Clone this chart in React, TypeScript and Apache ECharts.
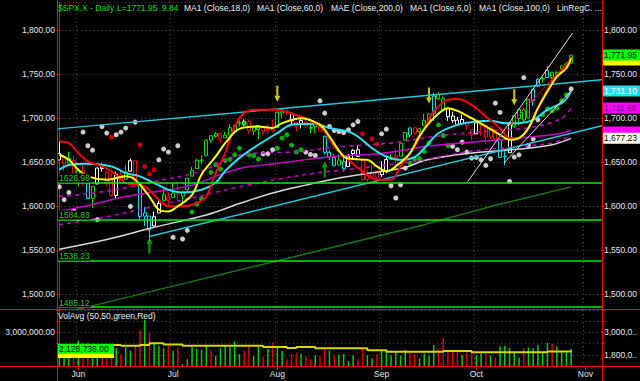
import React, { useEffect, useRef } from 'react';
import * as echarts from 'echarts';

// ---------- calendar ----------
const FIRST_SESSION = '2013-05-28';
const HOLIDAYS = ['2013-07-04', '2013-09-02'];
const SLOT_COUNT = 115;
const MONTHS = ['Jan', 'Feb', 'Mar', 'Apr', 'May', 'Jun', 'Jul', 'Aug', 'Sep', 'Oct', 'Nov', 'Dec'];

function buildSessions(): string[] {
  const out: string[] = [];
  const d = new Date(FIRST_SESSION + 'T00:00:00Z');
  while (out.length < SLOT_COUNT) {
    const wd = d.getUTCDay();
    const iso = d.toISOString().slice(0, 10);
    if (wd !== 0 && wd !== 6 && HOLIDAYS.indexOf(iso) < 0) out.push(iso);
    d.setUTCDate(d.getUTCDate() + 1);
  }
  return out;
}

// ---------- price data ($SPX.X daily) ----------
const opens = [
  1652.6, 1656.6, 1649.1, 1652.1, 1631.7, 1640.7, 1629.1, 1609.0, 1625.3, 1644.7,
  1638.6, 1629.9, 1612.2, 1635.5, 1630.6, 1639.8, 1651.8, 1624.6, 1588.6, 1588.8,
  1577.5, 1592.3, 1606.4, 1611.1, 1609.8, 1614.3, 1611.5, 1618.7, 1634.2, 1642.9,
  1651.6, 1657.4, 1675.3, 1679.6, 1682.7, 1677.9, 1681.1, 1686.2, 1694.4, 1696.6,
  1696.1, 1685.2, 1687.3, 1690.3, 1687.9, 1687.8, 1689.4, 1706.1, 1708.0, 1705.8,
  1695.3, 1693.4, 1696.1, 1688.4, 1690.7, 1693.4, 1679.6, 1661.2, 1655.3, 1646.8,
  1650.7, 1645.0, 1659.9, 1664.3, 1652.5, 1630.3, 1633.5, 1640.0, 1635.9, 1640.7,
  1653.3, 1657.4, 1656.9, 1675.1, 1681.0, 1689.2, 1685.0, 1691.7, 1697.7, 1705.7,
  1727.3, 1722.4, 1711.4, 1702.6, 1698.0, 1694.1, 1695.5, 1687.3, 1682.4, 1691.9,
  1692.4, 1679.0, 1687.2, 1676.2, 1657.0, 1660.9, 1691.1, 1699.9, 1709.2, 1700.5,
  1720.2, 1736.7, 1745.2, 1746.5, 1752.3, 1747.5, 1756.0, 1759.4, 1762.9,
];
const highs = [
  1674.2, 1656.6, 1661.9, 1658.0, 1640.4, 1646.5, 1629.3, 1622.6, 1644.4, 1648.7,
  1640.8, 1637.7, 1639.3, 1640.8, 1646.5, 1654.2, 1652.5, 1624.6, 1599.2, 1588.8,
  1593.8, 1606.8, 1620.1, 1615.9, 1626.6, 1624.3, 1618.0, 1632.1, 1644.7, 1654.2,
  1657.9, 1676.6, 1680.2, 1684.5, 1683.7, 1684.8, 1693.1, 1692.1, 1697.6, 1698.8,
  1698.4, 1690.9, 1691.9, 1690.9, 1693.2, 1698.4, 1707.9, 1709.7, 1709.2, 1705.8,
  1695.3, 1700.2, 1699.4, 1692.6, 1696.8, 1695.5, 1679.6, 1663.6, 1659.2, 1658.9,
  1656.9, 1659.6, 1664.9, 1669.5, 1652.5, 1641.2, 1646.4, 1640.7, 1651.4, 1655.7,
  1659.2, 1664.8, 1672.4, 1684.1, 1689.1, 1689.8, 1688.7, 1704.9, 1705.5, 1729.4,
  1729.9, 1725.2, 1711.4, 1707.6, 1701.7, 1703.9, 1695.5, 1687.3, 1696.6, 1693.9,
  1692.4, 1691.0, 1687.2, 1676.8, 1662.5, 1692.6, 1703.4, 1711.0, 1711.6, 1721.8,
  1733.4, 1745.3, 1747.8, 1759.3, 1752.3, 1753.9, 1759.8, 1764.0, 1772.1,
];
const lows = [
  1652.6, 1640.1, 1648.6, 1630.7, 1622.7, 1623.6, 1608.1, 1598.2, 1625.3, 1639.3,
  1622.9, 1610.9, 1608.1, 1625.5, 1630.3, 1639.8, 1628.9, 1584.3, 1577.7, 1560.3,
  1577.1, 1592.3, 1606.4, 1601.1, 1609.8, 1606.8, 1604.6, 1614.7, 1634.2, 1642.9,
  1647.7, 1657.4, 1672.3, 1677.9, 1671.8, 1677.9, 1681.1, 1684.1, 1690.7, 1691.0,
  1682.6, 1680.7, 1676.0, 1681.9, 1682.4, 1684.9, 1689.4, 1700.7, 1703.6, 1693.3,
  1684.9, 1688.4, 1689.0, 1683.2, 1682.6, 1684.8, 1658.6, 1652.6, 1646.1, 1646.1,
  1639.4, 1645.0, 1653.8, 1656.0, 1629.1, 1627.5, 1630.9, 1625.4, 1633.4, 1637.4,
  1653.1, 1640.6, 1656.9, 1675.1, 1678.7, 1681.0, 1682.2, 1691.7, 1697.7, 1697.0,
  1720.2, 1708.9, 1697.1, 1694.9, 1691.9, 1693.1, 1687.1, 1674.8, 1682.1, 1680.3,
  1670.4, 1677.1, 1674.7, 1655.0, 1646.5, 1660.9, 1688.5, 1692.1, 1695.5, 1700.5,
  1714.1, 1735.7, 1740.7, 1746.5, 1740.5, 1745.5, 1752.5, 1757.7, 1762.9,
];
const closes = [
  1660.1, 1648.4, 1654.4, 1630.7, 1640.4, 1631.4, 1608.9, 1622.6, 1643.4, 1642.8,
  1626.1, 1612.5, 1636.4, 1626.7, 1639.0, 1651.8, 1628.9, 1588.2, 1592.4, 1573.1,
  1588.0, 1603.3, 1613.2, 1606.3, 1615.0, 1614.1, 1615.4, 1631.9, 1640.5, 1652.3,
  1652.6, 1675.0, 1680.2, 1682.5, 1676.3, 1680.9, 1689.4, 1692.1, 1695.5, 1692.4,
  1685.9, 1690.3, 1691.7, 1685.3, 1686.0, 1685.7, 1706.9, 1709.7, 1707.1, 1697.4,
  1690.9, 1697.5, 1691.4, 1689.5, 1694.2, 1685.4, 1661.3, 1655.8, 1646.1, 1652.4,
  1642.8, 1657.0, 1663.5, 1656.8, 1630.5, 1635.0, 1638.2, 1633.0, 1639.8, 1653.1,
  1655.1, 1655.2, 1671.7, 1684.0, 1689.1, 1683.4, 1688.0, 1697.6, 1704.8, 1725.5,
  1722.3, 1709.9, 1701.8, 1697.4, 1692.8, 1698.7, 1691.8, 1681.6, 1695.0, 1693.9,
  1678.7, 1690.5, 1676.1, 1655.5, 1656.4, 1692.6, 1703.2, 1710.1, 1698.1, 1721.5,
  1733.2, 1744.5, 1744.7, 1754.7, 1746.4, 1752.1, 1759.8, 1762.1, 1771.95,
];
// candle tone: g green, r red, w white, c cyan
const candleTone =
  'wrgrgrcgww' + 'rrwrgwrccc' + 'wwgrgrgggg' + 'ggggrggggw' + 'rggrrrggrw' +
  'rwrggrcccg' + 'cwwwrrrrww' + 'grggcrgggc' + 'ggwwwwrrwr' + 'rrrccwgggg' + 'ccgcggggg';

// ---------- volume (millions) ----------
const volumes = [
  2.20, 2.29, 2.25, 2.44, 2.56, 2.44, 2.44, 2.38, 2.25, 1.96,
  2.20, 2.11, 2.16, 1.84, 2.20, 2.02, 2.33, 3.11, 3.67, 3.05,
  2.44, 2.29, 2.15, 2.33, 2.02, 2.20, 1.29, 1.56, 2.20, 2.11,
  2.07, 2.29, 2.00, 1.75, 2.15, 2.33, 2.20, 2.51, 1.84, 2.00,
  2.25, 1.75, 2.25, 1.71, 2.11, 2.44, 2.20, 2.00, 1.56, 1.84,
  1.89, 1.84, 1.71, 1.56, 1.78, 1.75, 2.15, 2.02, 1.75, 1.80,
  1.84, 1.47, 1.78, 1.56, 2.11, 1.78, 1.60, 1.84, 2.02, 1.93,
  1.78, 1.93, 1.75, 2.07, 1.93, 1.84, 1.60, 1.87, 1.75, 2.33,
  2.15, 2.71, 2.02, 1.96, 2.02, 1.78, 1.93, 1.96, 1.78, 1.93,
  2.02, 1.75, 1.65, 2.25, 2.29, 2.18, 1.93, 1.65, 2.15, 2.20,
  2.15, 2.33, 1.93, 2.44, 2.38, 2.25, 1.93, 1.93, 2.13,
];
const volumeTone =
  'gggrgrrggr' + 'rrgrggrrgr' + 'gggrgrgggg' + 'ggrggggggr' + 'rggrgrggrr' +
  'rgrrgrrgrg' + 'gggrrggrgg' + 'ggggrrgggg' + 'rrrrrgrrgg' + 'rgrgggggrg' + 'ggggrgggg';
const volumeAvg = [
  [0, 2.33], [13, 2.29], [17, 2.33], [19, 2.42], [22, 2.35], [26, 2.29], [43, 2.22],
  [48, 2.16], [50, 2.22], [54, 2.15], [65, 2.05], [69, 1.96], [81, 2.0], [87, 1.93],
  [103, 1.98], [108, 2.02],
];
const lastVolume = 2.128736;
const lastVolumeAvg = 1.9;

// ---------- indicator lines (read at sample bars) ----------
const ma6Yellow = [
  [0, 1658.5], [2, 1652.8], [4, 1641.5], [6, 1633.9], [10, 1630], [14, 1634], [16, 1630],
  [19, 1611], [21, 1596], [23, 1594], [25, 1600], [28, 1613], [30, 1636], [33, 1656.6],
  [35, 1671.8], [38, 1688], [42, 1690.7], [45, 1688.9], [47, 1694.5], [51, 1700.2],
  [55, 1692.6], [57, 1679.3], [60, 1656.6], [62, 1653.6], [65, 1652.8], [67, 1645.3],
  [69, 1639.6], [71, 1645.3], [74, 1660.5], [76, 1680], [79, 1700.2], [82, 1711.6],
  [84, 1708.5], [87, 1700.2], [90, 1690.7], [93, 1681.3], [95, 1675.6], [97, 1677.5],
  [99, 1688.9], [101, 1711.6], [103, 1730.5], [105, 1747.5], [107, 1757], [108, 1768.4],
];
const ma18Red = [
  [0, 1673.7], [2, 1671.8], [4, 1660.5], [6, 1651], [9, 1645.3], [11, 1639.6], [14, 1626.4],
  [16, 1624.4], [18, 1622.5], [21, 1607.4], [23, 1599.8], [26, 1599.8], [29, 1603.6],
  [31, 1611.1], [33, 1637.7], [35, 1660.5], [37, 1690.7], [39, 1706], [42, 1709.7],
  [45, 1709.7], [51, 1702], [54, 1694.5], [56, 1685], [58, 1668], [61, 1652.8], [64, 1639.6],
  [67, 1630], [70, 1630], [72, 1645.3], [75, 1668], [77, 1688], [79, 1707.8], [82, 1721],
  [84, 1722], [87, 1715.3], [90, 1702], [93, 1688.9], [95, 1677.5], [97, 1677.5],
  [99, 1688.9], [101, 1711.6], [104, 1741.8], [107, 1760.8], [108, 1770],
];
const maCyan = [
  [0, 1641.5], [2, 1647], [6, 1648.3], [11, 1645.3], [14, 1637.7], [17, 1634], [20, 1626.4],
  [23, 1618.8], [26, 1615.7], [30, 1618.8], [33, 1627], [35, 1640], [38, 1655], [42, 1669.9],
  [46, 1683.2], [49, 1692.6], [54, 1693.8], [57, 1688.9], [61, 1685], [63, 1679.3],
  [66, 1666], [69, 1656.6], [72, 1652.8], [75, 1656], [77, 1666], [80, 1683], [84, 1692.6],
  [88, 1696.4], [91, 1697.2], [94, 1694.5], [97, 1694.5], [100, 1698.3], [103, 1709.7],
  [106, 1717.3], [107, 1722], [108, 1731.1],
];
const maMagenta = [
  [0, 1594], [7, 1602], [14, 1611], [21, 1617], [28, 1624], [34, 1636], [39, 1644], [45, 1648],
  [52, 1653], [59, 1657], [66, 1659], [73, 1664], [77, 1668], [85, 1672], [92, 1675],
  [100, 1679], [106, 1683], [108, 1686.5],
];
const envUpper = [
  [0, 1611], [10, 1617], [20, 1628], [30, 1640], [38, 1658], [50, 1662], [60, 1668],
  [70, 1672], [80, 1680], [90, 1685], [100, 1690], [106, 1700], [108, 1711.68],
];
const envLower = [
  [0, 1579], [10, 1588], [20, 1600], [30, 1612], [38, 1622], [52, 1636], [66, 1645],
  [76, 1652], [86, 1662], [97, 1668], [104, 1672], [108, 1680],
];
const ma100White = [
  [0, 1551], [10, 1562], [20, 1576], [31, 1590], [38, 1603], [45, 1615], [52, 1624],
  [59, 1632], [66, 1638], [73, 1644], [77, 1652], [86, 1660], [97, 1665], [104, 1670],
  [108, 1677.23],
];
const ma200Green = [[0, 1478], [8, 1488], [30, 1517], [47, 1539], [62, 1559], [77, 1579], [92, 1601], [108, 1622]];

const channelTop = [[-0.5, 1688], [114.5, 1744]];
const channelLow = [[19, 1565.5], [114.5, 1691.6]];
const regUpper = [[86.2, 1628], [108.3, 1797]];
const regMid = [[92.3, 1675.6], [107, 1762.7]];
const regLower = [[93.8, 1649], [108.2, 1732.4]];
const levels = [1626.98, 1584.83, 1538.23, 1485.12];

const whiteDots = [
  [0, 1622], [1, 1607.4], [2, 1615.7], [3, 1595.2], [4, 1585.8], [5, 1684.3], [6, 1668.8],
  [7, 1663.8], [8, 1584.7], [9, 1690.7], [10, 1683.2], [12, 1681.3], [13, 1684.3], [14, 1688.9],
  [15, 1599.8], [16, 1695.7], [21, 1652.8], [22, 1665], [23, 1661.6], [24, 1564.5], [25, 1668.8],
  [26, 1562.7], [27, 1572.5], [43, 1659.7], [44, 1659.7], [45, 1664.2], [52, 1661.6],
  [53, 1658.9], [54, 1657.7], [55, 1719.9], [56, 1705.9], [57, 1690.7], [58, 1686.1],
  [59, 1685], [60, 1683.9], [61, 1686.9], [62, 1692.6], [63, 1696.4], [68, 1682.4],
  [69, 1687.7], [70, 1623.3], [71, 1609.3], [72, 1624.4], [73, 1643.4], [83, 1668],
  [84, 1664.2], [85, 1672.9], [86, 1661.6], [87, 1654.8], [88, 1655.5], [89, 1652.8],
  [90, 1646.4], [91, 1654], [92, 1717.3], [93, 1706.7], [95, 1628.2], [96, 1655.9],
  [97, 1658.5], [98, 1746.4], [99, 1669.1], [100, 1676.4], [101, 1698.3], [108, 1733.5],
];
const redDots = [
  [11, 1678.6], [17, 1669.9], [18, 1645.3], [19, 1636.6], [20, 1641.5], [64, 1682.4],
  [66, 1676.7], [67, 1670.7],
];
const greenDots = [
  [28, 1593.4], [29, 1602.5], [30, 1608.5], [32, 1638.5], [33, 1647.2], [34, 1642.3],
  [35, 1652], [36, 1653.6], [37, 1658.5], [38, 1666], [39, 1694.5], [40, 1658.5],
  [41, 1657.7], [42, 1653.6], [46, 1666], [47, 1677.5], [48, 1681.3], [49, 1669.6],
  [50, 1661.6], [51, 1664.2], [74, 1649], [75, 1652.8], [76, 1654], [77, 1662.3],
  [78, 1671.8], [80, 1692.6], [81, 1680.5], [82, 1669.1], [102, 1704], [103, 1710.8],
  [104, 1708.5], [105, 1711.6], [106, 1719.9], [107, 1726.7],
];
const sellArrows = [[46, 1719], [78, 1717], [96, 1715]];
const buyArrows = [[19, 1564.2], [56, 1651]];

// last-value tags on the right price scale; hidden ones sit under a later tag
const lastValues = [
  { v: 1766.5, bg: '#ffff00', fg: '#000000', hidden: true },
  { v: 1771.95, bg: '#00ff00', fg: '#000000', hidden: false },
  { v: 1731.1, bg: '#22e0e8', fg: '#f4ffff', hidden: false },
  { v: 1684.5, bg: '#ff00ff', fg: '#700070', hidden: true },
  { v: 1711.68, bg: '#ff00ff', fg: '#700070', hidden: false },
  { v: 1677.23, bg: '#fffff0', fg: '#000000', hidden: false },
];

const FONT = '"Liberation Sans", Arial, sans-serif';
const TONE: Record<string, string> = { g: '#00e000', r: '#ff0000', w: '#ffffff', c: '#00e0f0' };

const fmt2 = (v: number) => v.toLocaleString('en-US', { minimumFractionDigits: 2, maximumFractionDigits: 2 });

export default function App() {
  const ref = useRef<HTMLDivElement>(null);

  useEffect(() => {
    if (!ref.current) return;
    const chart = echarts.init(ref.current, null, { renderer: 'svg' });
    const sessions = buildSessions();
    const isMonthStart = (i: number) => i > 0 && sessions[i].slice(5, 7) !== sessions[i - 1].slice(5, 7);
    const monthLabel = (v: string) => MONTHS[parseInt(v.slice(5, 7), 10) - 1];

    const candleData = opens.map((o, i) => {
      const col = TONE[candleTone[i]];
      return {
        value: [o, closes[i], lows[i], highs[i]],
        itemStyle: { color: '#000000', color0: col, borderColor: col, borderColor0: col, borderWidth: 1 },
      };
    });
    const volData = volumes.map((v, i) => ({
      value: v,
      itemStyle: { color: volumeTone[i] === 'g' ? '#00d000' : '#e00000' },
    }));

    const priceLabel = (v: number) => (Math.abs(v / 50 - Math.round(v / 50)) < 1e-6 ? fmt2(v) : '');
    const axisText = { color: '#e8e8e8', fontSize: 8.5, fontFamily: FONT };
    const dotted = { color: '#4a4a4a', type: [1, 3] as any, width: 1 };

    const line = (data: number[][], color: string, width: number, extra: any = {}) => ({
      type: 'line',
      xAxisIndex: 0,
      yAxisIndex: 0,
      data,
      symbol: 'none',
      smooth: 0.35,
      silent: true,
      lineStyle: { color, width, ...(extra.lineStyle || {}) },
      ...extra.rest,
    });
    const straight = (data: number[][], color: string, width: number) => ({
      type: 'line',
      xAxisIndex: 2,
      yAxisIndex: 0,
      data,
      symbol: 'none',
      silent: true,
      lineStyle: { color, width },
    });
    const dots = (data: number[][], color: string) => ({
      type: 'scatter',
      xAxisIndex: 0,
      yAxisIndex: 0,
      data,
      symbol: 'circle',
      symbolSize: 5,
      silent: true,
      itemStyle: { color },
    });
    const titleText = (x: number, text: string, fill: string) => ({
      type: 'text', x, y: 7.5, z: 60, silent: true,
      style: { text, fill, font: `8.5px ${FONT}`, textVerticalAlign: 'middle' },
    });
    const frame = (x1: number, y1: number, x2: number, y2: number) => ({
      type: 'line', shape: { x1, y1, x2, y2 }, style: { stroke: '#ff0000', lineWidth: 1 }, z: 50, silent: true,
    });

    const option: any = {
      backgroundColor: '#000000',
      animation: false,
      textStyle: { fontFamily: FONT },
      grid: [
        { left: 57, right: 38, top: 2, bottom: 72 },
        { left: 57, right: 38, top: 310, bottom: 15 },
      ],
      xAxis: [
        {
          type: 'category', gridIndex: 0, data: sessions, boundaryGap: true,
          axisLine: { show: false }, axisTick: { show: false }, axisLabel: { show: false },
          splitLine: { show: true, interval: (i: number) => isMonthStart(i), lineStyle: dotted },
        },
        {
          type: 'category', gridIndex: 1, data: sessions, boundaryGap: true,
          axisLine: { show: true, lineStyle: { color: '#ff0000' } },
          axisTick: { show: true, alignWithLabel: true, length: 4, interval: (i: number) => isMonthStart(i), lineStyle: { color: '#ff0000' } },
          axisLabel: { ...axisText, margin: 3, interval: (i: number) => isMonthStart(i), formatter: (v: string) => monthLabel(v) },
          splitLine: { show: true, interval: (i: number) => isMonthStart(i), lineStyle: dotted },
        },
        { type: 'value', gridIndex: 0, min: -0.5, max: 114.5, show: false },
        { type: 'value', gridIndex: 1, min: -0.5, max: 114.5, show: false },
      ],
      yAxis: [
        {
          type: 'value', gridIndex: 0, position: 'left', min: 1483, max: 1832.4, splitNumber: 5,
          axisLine: { show: true, lineStyle: { color: '#ff0000' } },
          axisTick: { show: true, length: 3, lineStyle: { color: '#ff0000' } },
          axisLabel: { ...axisText, margin: 2, showMinLabel: false, showMaxLabel: false, formatter: priceLabel },
          splitLine: { show: true, lineStyle: dotted },
        },
        {
          type: 'value', gridIndex: 0, position: 'right', min: 1483, max: 1832.4, splitNumber: 5,
          axisLine: { show: true, lineStyle: { color: '#ff0000' } },
          axisTick: { show: true, length: 3, lineStyle: { color: '#ff0000' } },
          axisLabel: { ...axisText, margin: 2, showMinLabel: false, showMaxLabel: false, formatter: priceLabel },
          splitLine: { show: false },
        },
        {
          type: 'value', gridIndex: 1, position: 'left', min: 1.2, max: 4.2, interval: 0.6,
          axisLine: { show: true, lineStyle: { color: '#ff0000' } },
          axisTick: { show: true, length: 3, lineStyle: { color: '#ff0000' } },
          axisLabel: {
            ...axisText, margin: 2,
            formatter: (v: number) => (Math.abs(v - 3) < 1e-6 ? fmt2(v * 1e6) : ''),
          },
          splitLine: { show: true, lineStyle: dotted },
        },
        {
          type: 'value', gridIndex: 1, position: 'right', min: 1.2, max: 4.2, interval: 0.6,
          axisLine: { show: true, lineStyle: { color: '#ff0000' } },
          axisTick: { show: true, length: 3, lineStyle: { color: '#ff0000' } },
          axisLabel: {
            ...axisText, margin: 2,
            formatter: (v: number) => (Math.abs(v - 3) < 1e-6 ? '3,000,0..' : Math.abs(v - 1.8) < 1e-6 ? '1,800,0..' : ''),
          },
          splitLine: { show: false },
        },
      ],
      graphic: [
        frame(57.5, 0, 57.5, 381),
        frame(602.5, 0, 602.5, 381),
        frame(0, 309.5, 640, 309.5),
        frame(0, 366.5, 640, 366.5),
        titleText(58, '$SPX.X - Daily', '#00e000'),
        titleText(117, 'L=1771.95', '#00e000'),
        titleText(162, '9.84', '#00e000'),
        titleText(184, 'MA1 (Close,18,0)', '#f0f0f0'),
        titleText(257, 'MA1 (Close,60,0)', '#f0f0f0'),
        titleText(331, 'MAE (Close,200,0)', '#f0f0f0'),
        titleText(410, 'MA1 (Close,6,0)', '#f0f0f0'),
        titleText(479, 'MA1 (Close,100,0)', '#f0f0f0'),
        titleText(557, 'LinRegC. ...', '#f0f0f0'),
        { type: 'text', x: 58, y: 316, z: 60, silent: true, style: { text: 'VolAvg (50,50,green,Red)', fill: '#f0f0f0', font: `8.5px ${FONT}`, textVerticalAlign: 'middle' } },
      ],
      series: [
        line(ma200Green, '#137a13', 1.5, { rest: { smooth: false } }),
        line(ma100White, '#d8d8d8', 1.5),
        line(envLower, '#cc00cc', 1.5, { lineStyle: { type: [4, 4] } }),
        line(envUpper, '#cc00cc', 1.5, { lineStyle: { type: [4, 4] } }),
        line(maMagenta, '#cc00cc', 1.5),
        {
          ...straight(channelTop, '#20c8d8', 1.5),
          markPoint: {
            silent: true, symbol: 'rect', symbolSize: 0, animation: false,
            data: lastValues.map((d) => ({
              coord: [114.5, d.v],
              label: {
                show: true, position: 'right', distance: 0, formatter: d.hidden ? ' ' : fmt2(d.v),
                backgroundColor: d.bg, color: d.fg, fontSize: 8.5, fontFamily: FONT,
                width: 34, height: 10, lineHeight: 10, padding: [1, 2, 0, 2], align: 'left',
              },
            })),
          },
        },
        straight(channelLow, '#20c8d8', 1.5),
        {
          type: 'candlestick', xAxisIndex: 0, yAxisIndex: 0, data: candleData, barWidth: 3.5, silent: true,
        },
        line(maCyan, '#30e0f0', 2),
        line(ma18Red, '#ff0000', 2),
        line(ma6Yellow, '#ffff00', 2),
        straight(regUpper, '#e0e0e0', 1),
        straight(regMid, '#e00000', 1),
        straight(regLower, '#e0e0e0', 1),
        dots(whiteDots, '#ffffff'),
        dots(redDots, '#ff0000'),
        dots(greenDots, '#00dd00'),
        {
          type: 'line', xAxisIndex: 2, yAxisIndex: 0, data: [], symbol: 'none', silent: true,
          markLine: {
            silent: true, symbol: 'none', animation: false,
            lineStyle: { color: '#00ee00', width: 1.5, type: 'solid' },
            label: {
              show: true, position: 'insideStartTop', distance: [1, 0], color: '#22cc22',
              backgroundColor: '#000000', padding: [0, 1, 0, 1],
              fontSize: 8.5, fontFamily: FONT, formatter: (p: any) => p.value.toFixed(2),
            },
            data: levels.map((v) => ({ yAxis: v })),
          },
        },
        {
          type: 'scatter', xAxisIndex: 0, yAxisIndex: 0, data: sellArrows, silent: true,
          symbol: 'path://M2,0 L4,0 L4,10 L6,10 L3,16 L0,10 L2,10 Z', symbolSize: [6, 16],
          symbolOffset: [0, '-50%'], itemStyle: { color: '#ffff00' },
        },
        {
          type: 'scatter', xAxisIndex: 0, yAxisIndex: 0, data: buyArrows, silent: true,
          symbol: 'path://M3,0 L6,6 L4,6 L4,16 L2,16 L2,6 L0,6 Z', symbolSize: [6, 16],
          symbolOffset: [0, '50%'], itemStyle: { color: '#00cc00' },
        },
        {
          type: 'bar', xAxisIndex: 1, yAxisIndex: 2, data: volData, barWidth: 1.5, silent: true,
        },
        {
          type: 'line', xAxisIndex: 3, yAxisIndex: 2, data: volumeAvg, step: 'end', symbol: 'none', silent: true,
          lineStyle: { color: '#d8d800', width: 2 },
          markPoint: {
            silent: true, symbol: 'rect', symbolSize: 0, animation: false,
            data: [
              { v: lastVolumeAvg, bg: '#ffff00', hidden: true },
              { v: lastVolume, bg: '#00ff00', hidden: false },
            ].map((d) => ({
              coord: [-0.5, d.v],
              label: {
                show: true, position: 'left', distance: 0, formatter: d.hidden ? ' ' : fmt2(d.v * 1e6),
                backgroundColor: d.bg, color: '#000000', fontSize: 8.5, fontFamily: FONT,
                width: 53, height: 10, lineHeight: 10, padding: [0, 2, 0, 2], align: 'left',
              },
            })),
          },
        },
      ],
    };
    chart.setOption(option);
    return () => chart.dispose();
  }, []);

  return (
    <div
      ref={ref}
      style={{ position: 'fixed', left: 0, top: 0, width: 640, height: 381, background: '#000' }}
    />
  );
}
